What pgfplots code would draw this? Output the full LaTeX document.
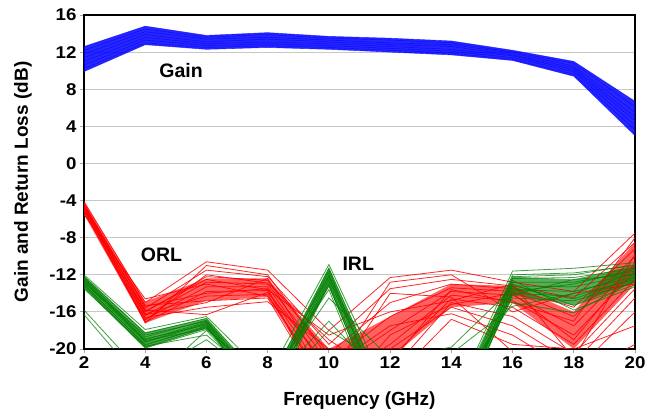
\documentclass[border=0pt]{standalone}
\usepackage{fontspec}
\setmainfont{Liberation Sans}
\newfontfamily\tickfont[FakeStretch=1.1]{Liberation Sans}
\usepackage{pgfplots}
\usepackage{pgfplotstable}
\usepgfplotslibrary{fillbetween}
\pgfplotsset{compat=1.18}

\definecolor{gblue}{RGB}{0,0,255}
\definecolor{ored}{RGB}{255,0,0}
\definecolor{igreen}{RGB}{0,128,0}

\pgfplotstableread{
x  g1   g2   g3   g4   g5   g6   g7   g8
2  12.6 12.2 11.8 11.4 11.0 10.6 10.2 9.9
4  14.8 14.5 14.2 13.9 13.6 13.3 13.0 12.8
6  13.8 13.6 13.4 13.1 12.9 12.7 12.5 12.3
8  14.1 13.9 13.6 13.4 13.1 12.9 12.7 12.5
10 13.7 13.5 13.3 13.1 12.9 12.7 12.5 12.3
12 13.5 13.3 13.0 12.8 12.6 12.4 12.2 12.0
14 13.2 13.0 12.8 12.6 12.3 12.1 11.9 11.7
16 12.2 12.0 11.9 11.7 11.6 11.4 11.2 11.1
18 11.0 10.8 10.5 10.3 10.1 9.9  9.6  9.4
20 6.7  6.1  5.5  5.0  4.6  4.1  3.6  3.0
}\gain

\pgfplotstableread{
x  r1    r2    r3    r4    r5    r6    r7    r8    r9    r10   r11   r12   r13   r14   r15   r16   hi    lo
2  -4.1  -4.4  -4.6  -4.8  -5.0  -5.2  -4.3  -4.5  -4.7  -4.9  -5.1  -5.5  -4.4  -4.6  -5.0  -4.8  -4.1  -5.5
4  -15.0 -15.6 -16.0 -16.4 -16.8 -17.1 -16.2 -15.3 -16.6 -15.8 -16.9 -14.6 -17.2 -15.4 -16.3 -15.9 -14.9 -17.2
6  -10.6 -11.5 -12.2 -12.8 -13.3 -13.8 -14.3 -14.8 -15.5 -16.3 -12.0 -13.0 -11.0 -14.0 -15.0 -12.5 -12.4 -14.8
8  -11.5 -12.2 -12.6 -13.0 -13.3 -13.7 -14.1 -14.5 -14.9 -13.9 -12.9 -14.3 -12.0 -13.5 -12.4 -13.6 -12.4 -14.4
10 -18.0 -19.5 -20.5 -21.5 -22.5 -23.5 -24.5 -25.5 -20.0 -22.0 -19.0 -24.0 -21.0 -26.0 -23.0 -18.5 -20.0 -25.0
12 -12.3 -13.5 -15.0 -16.5 -18.0 -19.5 -21.0 -22.5 -20.0 -17.5 -23.5 -14.0 -21.5 -18.5 -12.8 -16.0 -16.5 -21.0
14 -11.5 -12.5 -13.0 -13.4 -13.8 -14.2 -14.6 -15.0 -15.5 -16.2 -16.8 -14.4 -13.6 -15.2 -12.0 -14.8 -13.0 -15.5
16 -12.8 -13.2 -13.5 -13.8 -14.2 -14.8 -15.5 -16.5 -17.5 -18.5 -19.5 -20.3 -15.0 -14.0 -16.0 -13.0 -13.2 -15.0
18 -13.8 -14.5 -15.5 -16.5 -17.5 -18.5 -19.5 -20.5 -21.5 -22.5 -20.0 -23.0 -17.0 -19.0 -14.0 -21.0 -16.0 -20.0
20 -7.5  -8.5  -9.2  -10.0 -10.8 -11.6 -12.5 -13.5 -14.5 -16.0 -17.5 -19.5 -8.0  -11.0 -13.0 -9.8  -8.5  -13.0
}\orl

\pgfplotstableread{
x  n1    n2    n3    n4    n5    n6    n7    n8    n9    n10   n11   n12   n13   n14   n15   n16   hi    lo
2  -12.0 -12.2 -12.4 -12.6 -12.8 -13.0 -13.2 -13.4 -12.5 -12.9 -13.1 -12.3 -15.8 -16.3 -13.5 -12.7 -12.1 -13.4
4  -17.9 -18.3 -18.7 -19.0 -19.3 -19.6 -19.8 -19.9 -19.2 -18.5 -19.5 -18.9 -23.0 -24.0 -19.7 -19.1 -18.2 -19.9
6  -16.5 -16.7 -16.9 -17.1 -17.3 -17.5 -17.7 -17.9 -17.2 -17.0 -17.6 -17.4 -19.0 -18.0 -18.5 -17.8 -16.7 -17.8
8  -23.0 -24.0 -24.5 -25.0 -25.5 -26.0 -24.0 -23.5 -25.0 -24.5 -25.5 -26.5 -24.0 -25.0 -24.0 -23.5 -24.0 -25.5
10 -10.9 -11.3 -11.7 -12.0 -12.4 -12.8 -13.2 -13.6 -12.2 -11.5 -12.6 -13.0 -17.0 -18.0 -14.5 -12.1 -11.2 -13.3
12 -25.0 -26.0 -27.0 -27.5 -28.0 -28.5 -29.0 -30.0 -27.0 -28.0 -26.5 -29.5 -24.0 -22.0 -21.0 -25.5 -26.0 -29.0
14 -26.0 -27.0 -28.0 -28.5 -29.0 -29.5 -27.5 -26.5 -28.0 -29.0 -27.0 -28.5 -25.0 -20.5 -19.8 -27.5 -26.0 -29.0
16 -11.6 -12.0 -12.4 -12.8 -13.2 -13.6 -14.0 -14.5 -13.0 -12.6 -13.8 -14.2 -15.0 -15.4 -13.4 -12.2 -12.2 -14.2
18 -11.3 -11.8 -12.3 -12.8 -13.3 -13.8 -14.3 -14.8 -15.3 -15.8 -13.0 -12.5 -16.1 -14.0 -14.6 -12.0 -12.5 -15.3
20 -10.7 -11.0 -11.3 -11.6 -11.9 -12.2 -12.5 -12.8 -13.1 -13.3 -11.4 -12.0 -12.6 -11.8 -12.3 -10.9 -11.0 -12.8
}\irl

\begin{document}
\begin{tikzpicture}
\begin{axis}[
  at={(0,0)}, anchor=south west,
  scale only axis, width=551bp, height=334bp,
  xmin=2, xmax=20, ymin=-20, ymax=16,
  xtick={2,4,...,20}, ytick={-20,-16,...,16},
  xticklabels={2,4,6,8,10,12,14,16,18,20},
  yticklabels={-20,-16,-12,-8,-4,0,4,8,12,16},
  xtick pos=left, ytick pos=left,
  ymajorgrids, grid style={black!22, line width=0.8bp},
  axis line style={line width=2.2bp, black},
  tick align=outside, major tick length=4bp,
  tick style={black!35, line width=0.8bp},
  tick label style={font=\tickfont\fontsize{17bp}{17bp}\selectfont\bfseries},
  xlabel={Frequency (GHz)},
  ylabel={Gain and Return Loss (dB)},
  label style={font=\fontsize{19bp}{20bp}\selectfont\bfseries},
  xlabel style={at={(axis description cs:0.5,-0.153)}, anchor=center},
  ylabel style={at={(axis description cs:-0.111,0.5)}, anchor=center},
]
% Gain band
\addplot[draw=none, name path=gt, forget plot] table[x=x,y=g1]{\gain};
\addplot[draw=none, name path=gb, forget plot] table[x=x,y=g8]{\gain};
\addplot[fill=gblue, opacity=0.85, draw=none, forget plot] fill between[of=gt and gb];
\pgfplotsinvokeforeach{1,...,8}{
  \addplot[gblue, line width=0.6bp, opacity=0.6, forget plot] table[x=x,y=g#1]{\gain};
}
% ORL
\addplot[draw=none, name path=rt, forget plot] table[x=x,y=hi]{\orl};
\addplot[draw=none, name path=rb, forget plot] table[x=x,y=lo]{\orl};
\addplot[fill=ored, opacity=0.62, draw=none, forget plot] fill between[of=rt and rb];
\pgfplotsinvokeforeach{1,...,16}{
  \addplot[ored, line width=0.8bp, opacity=0.85, forget plot] table[x=x,y=r#1]{\orl};
}
% IRL
\addplot[draw=none, name path=nt, forget plot] table[x=x,y=hi]{\irl};
\addplot[draw=none, name path=nb, forget plot] table[x=x,y=lo]{\irl};
\addplot[fill=igreen, opacity=0.65, draw=none, forget plot] fill between[of=nt and nb];
\pgfplotsinvokeforeach{1,...,16}{
  \addplot[igreen, line width=0.8bp, opacity=0.75, forget plot] table[x=x,y=n#1]{\irl};
}
\node[font=\fontsize{19.5bp}{20bp}\selectfont\bfseries] at (axis cs:5.17,10.0) {Gain};
\node[font=\fontsize{19.5bp}{20bp}\selectfont\bfseries] at (axis cs:4.53,-9.86) {ORL};
\node[font=\fontsize{19.5bp}{20bp}\selectfont\bfseries] at (axis cs:10.96,-10.8) {IRL};
\end{axis}
\pgfresetboundingbox
\useasboundingbox (-84bp,-63bp) rectangle (563bp,349bp);
\end{tikzpicture}
\end{document}
